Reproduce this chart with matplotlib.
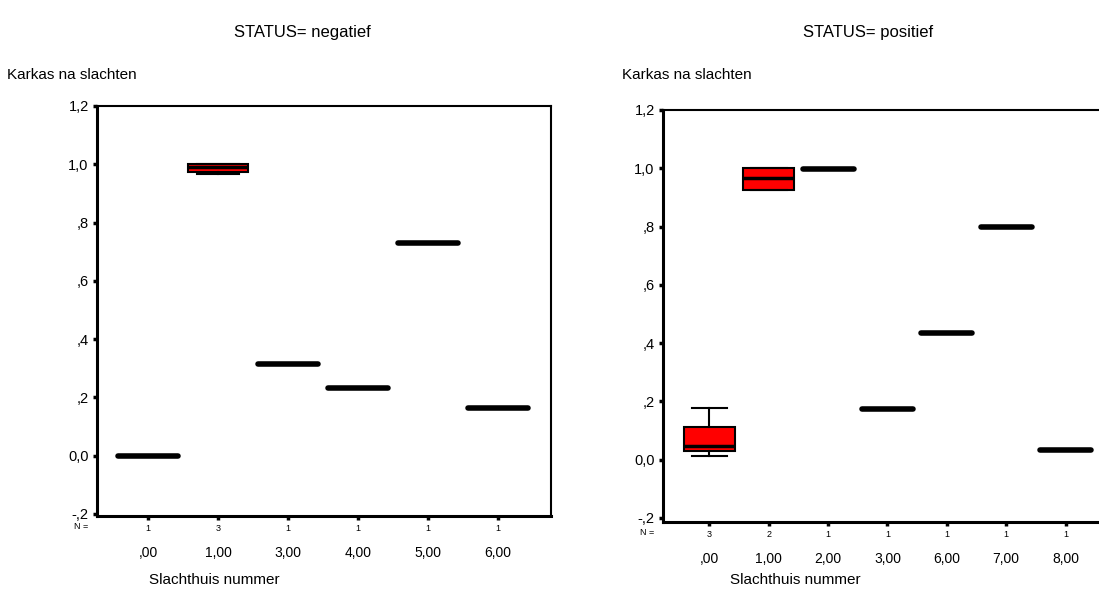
import matplotlib.pyplot as plt

# --- data ---
neg_labels = [",00", "1,00", "3,00", "4,00", "5,00", "6,00"]
neg_n = [1, 3, 1, 1, 1, 1]
neg_whislo = [0.0, 0.965, 0.315, 0.232, 0.731, 0.165]
neg_q1 = [0.0, 0.975, 0.315, 0.232, 0.731, 0.165]
neg_med = [0.0, 0.990, 0.315, 0.232, 0.731, 0.165]
neg_q3 = [0.0, 1.000, 0.315, 0.232, 0.731, 0.165]
neg_whishi = [0.0, 1.000, 0.315, 0.232, 0.731, 0.165]

pos_labels = [",00", "1,00", "2,00", "3,00", "6,00", "7,00", "8,00"]
pos_n = [3, 2, 1, 1, 1, 1, 1]
pos_whislo = [0.011, 0.925, 0.997, 0.175, 0.433, 0.797, 0.034]
pos_q1 = [0.029, 0.925, 0.997, 0.175, 0.433, 0.797, 0.034]
pos_med = [0.047, 0.968, 0.997, 0.175, 0.433, 0.797, 0.034]
pos_q3 = [0.112, 1.000, 0.997, 0.175, 0.433, 0.797, 0.034]
pos_whishi = [0.178, 1.000, 0.997, 0.175, 0.433, 0.797, 0.034]

ytick_vals = [-0.2, 0.0, 0.2, 0.4, 0.6, 0.8, 1.0, 1.2]
ytick_labels = ["-,2", "0,0", ",2", ",4", ",6", ",8", "1,0", "1,2"]


def box_panel(fig, rect, labels, counts, lo, q1, med, q3, hi, xlim, ylim):
    """SPSS-achtige boxplot per slachthuis"""
    ax = fig.add_axes(rect)
    stats = []
    for i in range(len(labels)):
        stats.append(dict(whislo=lo[i], q1=q1[i], med=med[i], q3=q3[i], whishi=hi[i]))
    pos = list(range(len(labels)))
    parts = ax.bxp(stats, positions=pos, widths=0.86, showfliers=False, patch_artist=True,
                   boxprops=dict(facecolor="#ff0000", edgecolor="black", linewidth=1.5),
                   medianprops=dict(color="black", linewidth=4, solid_capstyle="round"),
                   whiskerprops=dict(color="black", linewidth=1.5),
                   capprops=dict(color="black", linewidth=1.5), capwidths=0.6)
    # mediaan in een echte box dunner tekenen
    for i, line in enumerate(parts["medians"]):
        if q3[i] > q1[i]:
            line.set_linewidth(2.5)
            line.set_solid_capstyle("butt")

    ax.set_xlim(*xlim)
    ax.set_ylim(*ylim)
    ax.set_yticks(ytick_vals)
    ax.set_yticklabels(ytick_labels, fontsize=10.5)
    ax.set_xticks(pos)
    ax.set_xticklabels([str(c) for c in counts], fontsize=6.5)
    ax.tick_params(axis="both", direction="out", length=3, width=2.5, pad=3)
    ax.tick_params(axis="x", pad=3)
    for s in ["left", "bottom"]:
        ax.spines[s].set_linewidth(2.2)
    for s in ["top", "right"]:
        ax.spines[s].set_linewidth(1.5)

    # categorie-labels onder de N-rij
    for p, lab in zip(pos, labels):
        ax.text(p, -0.09, lab, transform=ax.get_xaxis_transform(),
                ha="center", va="center", fontsize=10)
    ax.text(-0.02, -0.026, "N =", transform=ax.transAxes, ha="right", va="center", fontsize=6.5)
    return ax


fig = plt.figure(figsize=(10.99, 6.05), dpi=100)
plt.rcParams["font.family"] = ["Liberation Sans", "DejaVu Sans"]

box_panel(fig, [0.0883, 0.1471, 0.4131, 0.6777], neg_labels, neg_n,
          neg_whislo, neg_q1, neg_med, neg_q3, neg_whishi, (-0.73, 5.76), (-0.207, 1.2))
box_panel(fig, [0.6033, 0.1372, 0.4095, 0.681], pos_labels, pos_n,
          pos_whislo, pos_q1, pos_med, pos_q3, pos_whishi, (-0.78, 6.8), (-0.214, 1.2))

fig.text(302 / 1099, 1 - 33 / 605, "STATUS= negatief", ha="center", va="center", fontsize=12)
fig.text(868 / 1099, 1 - 33 / 605, "STATUS= positief", ha="center", va="center", fontsize=12)
fig.text(7 / 1099, 1 - 75 / 605, "Karkas na slachten", ha="left", va="center", fontsize=11)
fig.text(622 / 1099, 1 - 75 / 605, "Karkas na slachten", ha="left", va="center", fontsize=11)
fig.text(214 / 1099, 1 - 580 / 605, "Slachthuis nummer", ha="center", va="center", fontsize=11)
fig.text(795 / 1099, 1 - 580 / 605, "Slachthuis nummer", ha="center", va="center", fontsize=11)

fig.savefig("out.png", dpi=100)
